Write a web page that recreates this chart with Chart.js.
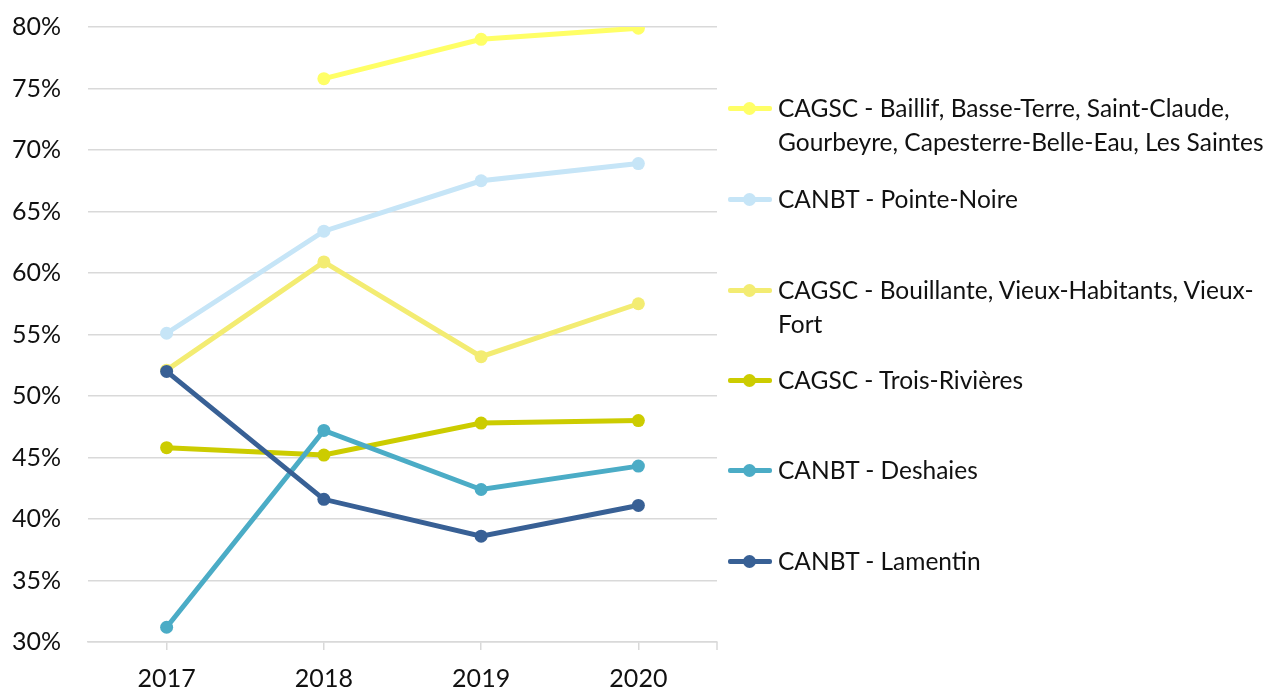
<!DOCTYPE html>
<html>
<head>
<meta charset="utf-8">
<script src="https://cdn.jsdelivr.net/npm/chart.js@4/dist/chart.umd.min.js"></script>
<style>
  html, body { margin: 0; padding: 0; background: #fff; }
  #wrap { position: relative; width: 1269px; height: 690px; }
  #c { position: absolute; left: 0; top: 0; }
  #legend { position: absolute; left: 728px; top: 0; font-family: Lato, "Open Sans", sans-serif; font-size: 24.5px; color: #111; }
  .item { position: absolute; left: 0; display: flex; align-items: flex-start; white-space: nowrap; }
  .mark { position: relative; width: 44px; height: 34px; flex: none; }
  .mark .ln { position: absolute; left: 0; right: 0; top: 14.5px; height: 5px; border-radius: 2px; }
  .mark .dt { position: absolute; left: 15px; top: 10.5px; width: 13px; height: 13px; border-radius: 50%; }
  .txt { margin-left: 6px; line-height: 34px; }
</style>
</head>
<body>
<div id="wrap">
  <canvas id="c" width="1269" height="690"></canvas>
  <div id="legend"></div>
</div>
<script>
// Years on the x axis
const years = ['2017', '2018', '2019', '2020'];

// Series names (each entry holds the wrapped lines of the name)
const seriesNames = [
  ['CAGSC - Baillif, Basse-Terre, Saint-Claude,', 'Gourbeyre, Capesterre-Belle-Eau, Les Saintes'],
  ['CANBT - Pointe-Noire'],
  ['CAGSC - Bouillante, Vieux-Habitants, Vieux-', 'Fort'],
  ['CAGSC - Trois-Rivières'],
  ['CANBT - Deshaies'],
  ['CANBT - Lamentin']
];

// Shares in percent, per series
const baillifBasseTerre = [null, 75.8, 79.0, 79.9];
const pointeNoire       = [55.1, 63.4, 67.5, 68.9];
const bouillante        = [52.1, 60.9, 53.2, 57.5];
const troisRivieres     = [45.8, 45.2, 47.8, 48.0];
const deshaies          = [31.2, 47.2, 42.4, 44.3];
const lamentin          = [52.0, 41.6, 38.6, 41.1];

// Y axis tick values
const yTicks = [30, 35, 40, 45, 50, 55, 60, 65, 70, 75, 80];

const seriesValues = [baillifBasseTerre, pointeNoire, bouillante, troisRivieres, deshaies, lamentin];
const seriesColors = ['#FFFF66', '#C6E5F7', '#F3EC72', '#CCCC00', '#4BACC6', '#386095'];
// vertical centre of the first line of each legend entry
const legendY = [108, 199, 290, 380, 470, 561];

const datasets = seriesValues.map((vals, i) => ({
  label: seriesNames[i].join(' '),
  data: vals,
  borderColor: seriesColors[i],
  backgroundColor: seriesColors[i],
  borderWidth: 5,
  pointRadius: 6.5,
  pointHoverRadius: 6.5,
  pointBorderWidth: 0,
  tension: 0,
  fill: false,
  order: seriesValues.length - 1 - i
}));

// Extra tick mark at the right end of the category axis
const endTick = {
  id: 'endTick',
  afterDraw(chart) {
    const { ctx, chartArea } = chart;
    ctx.save();
    ctx.strokeStyle = '#D9D9D9';
    ctx.lineWidth = 1.5;
    ctx.beginPath();
    ctx.moveTo(chartArea.right, chartArea.bottom);
    ctx.lineTo(chartArea.right, chartArea.bottom + 8);
    ctx.stroke();
    ctx.restore();
  }
};

new Chart(document.getElementById('c'), {
  type: 'line',
  data: { labels: years, datasets },
  plugins: [endTick],
  options: {
    responsive: false,
    animation: false,
    events: [],
    layout: { padding: { top: 27, right: 552, left: 0, bottom: 0 } },
    plugins: { legend: { display: false }, tooltip: { enabled: false } },
    scales: {
      x: {
        offset: true,
        grid: { display: true, drawOnChartArea: false, drawTicks: true, tickLength: 8, color: '#D9D9D9', lineWidth: 1.5, offset: false },
        border: { display: true, color: '#D9D9D9', width: 1.5 },
        ticks: { color: '#111', font: { family: 'Lato', size: 25 }, padding: 14, maxRotation: 0 },
        afterFit(scale) { scale.height = 48; scale.paddingLeft = 0; scale.paddingRight = 0; }
      },
      y: {
        min: 30, max: 80,
        afterBuildTicks(scale) { scale.ticks = yTicks.map(v => ({ value: v })); },
        grid: { color: '#D9D9D9', lineWidth: 1.5, drawTicks: false },
        border: { display: false },
        ticks: { color: '#111', font: { family: 'Lato', size: 25 }, padding: 27, callback: v => v + '%' },
        afterFit(scale) { scale.width = 88; scale.paddingTop = 0; scale.paddingBottom = 0; }
      }
    }
  }
});

// Legend drawn as text beside the plot
const legend = document.getElementById('legend');
seriesNames.forEach((lines, i) => {
  const item = document.createElement('div');
  item.className = 'item';
  item.style.top = (legendY[i] - 17) + 'px';
  const mark = document.createElement('div');
  mark.className = 'mark';
  mark.innerHTML = '<div class="ln" style="background:' + seriesColors[i] + '"></div><div class="dt" style="background:' + seriesColors[i] + '"></div>';
  const txt = document.createElement('div');
  txt.className = 'txt';
  txt.innerHTML = lines.join('<br>');
  item.appendChild(mark);
  item.appendChild(txt);
  legend.appendChild(item);
});
</script>
</body>
</html>
